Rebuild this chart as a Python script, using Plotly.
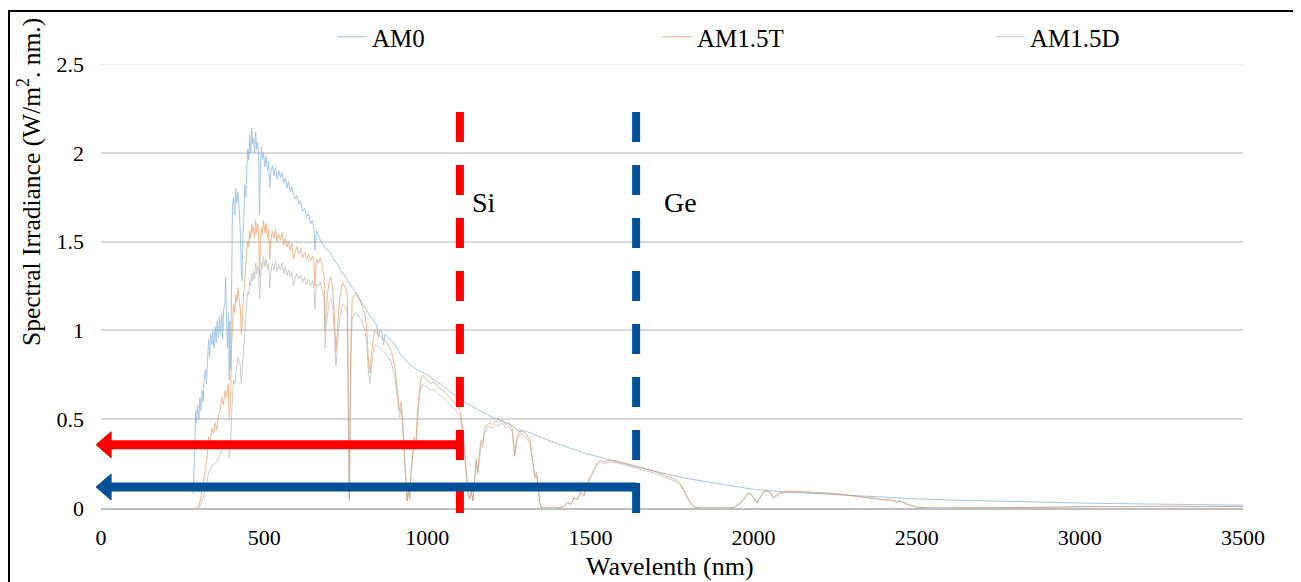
import plotly.graph_objects as go

# ---------------- data ----------------
am0_wl = [282, 286, 290, 293, 296, 300, 303, 306, 310, 313, 316, 320, 323, 326, 330, 333, 336, 340, 343, 346,
          350, 353, 356, 360, 363, 366, 370, 373, 376, 380, 382, 385, 388, 391, 393, 395, 397, 400, 403, 406,
          410, 413, 416, 420, 423, 426, 430, 432, 435, 438, 441, 444, 447, 450, 453, 456, 459, 462, 465, 468,
          471, 474, 477, 480, 483, 486, 489, 492, 495, 498, 502, 506, 510, 514, 517, 520, 525, 530, 535, 540,
          545, 550, 555, 560, 565, 570, 575, 580, 585, 590, 595, 600, 606, 612, 618, 624, 630, 636, 642, 648,
          653, 656, 660, 666, 672, 678, 684, 690, 696, 702, 710, 718, 726, 734, 742, 750, 758, 766, 775, 785,
          795, 805, 815, 825, 835, 845, 850, 854, 860, 866, 870, 880, 890, 900, 910, 920, 930, 945, 960, 975,
          990, 1000, 1020, 1040, 1060, 1080, 1100, 1120, 1140, 1160, 1180, 1200, 1220, 1240, 1260, 1283, 1300,
          1320, 1340, 1360, 1380, 1400, 1420, 1440, 1460, 1480, 1500, 1520, 1540, 1560, 1580, 1600, 1620, 1640,
          1660, 1680, 1700, 1750, 1800, 1850, 1900, 1950, 2000, 2100, 2200, 2300, 2400, 2500, 2600, 2700, 2800,
          2900, 3000, 3100, 3200, 3300, 3400, 3500]
am0_val = [0.08, 0.25, 0.55, 0.48, 0.58, 0.50, 0.62, 0.55, 0.66, 0.60, 0.72, 0.78, 0.70, 0.82, 0.95, 0.85, 0.98, 0.92, 1.00, 0.90,
           1.02, 0.93, 1.05, 0.96, 1.08, 0.98, 1.10, 0.95, 1.12, 1.15, 1.30, 1.05, 0.90, 1.10, 0.72, 1.05, 0.78, 1.20, 1.70, 1.75,
           1.65, 1.80, 1.72, 1.78, 1.68, 1.60, 1.35, 1.28, 1.55, 1.62, 1.82, 1.75, 1.92, 2.02, 1.96, 2.10, 2.00, 2.14, 2.05, 2.08,
           2.00, 2.12, 2.02, 2.06, 1.98, 1.65, 1.95, 2.03, 1.96, 2.00, 1.92, 1.98, 1.90, 1.95, 1.80, 1.88, 1.93, 1.87, 1.92, 1.85,
           1.90, 1.86, 1.89, 1.83, 1.86, 1.80, 1.84, 1.78, 1.81, 1.76, 1.74, 1.76, 1.71, 1.73, 1.67, 1.69, 1.64, 1.66, 1.60, 1.62,
           1.57, 1.45, 1.56, 1.53, 1.51, 1.49, 1.47, 1.46, 1.45, 1.44, 1.41, 1.39, 1.37, 1.34, 1.32, 1.30, 1.28, 1.25, 1.23, 1.20,
           1.17, 1.14, 1.11, 1.08, 1.06, 1.03, 0.96, 1.00, 1.00, 0.92, 0.98, 0.96, 0.94, 0.92, 0.89, 0.86, 0.84, 0.81, 0.79, 0.77,
           0.76, 0.75, 0.72, 0.70, 0.67, 0.64, 0.61, 0.59, 0.57, 0.55, 0.53, 0.51, 0.495, 0.48, 0.465, 0.43, 0.435,
           0.42, 0.405, 0.39, 0.375, 0.36, 0.35, 0.335, 0.325, 0.31, 0.30, 0.29, 0.28, 0.27, 0.26, 0.25, 0.24, 0.232,
           0.225, 0.215, 0.205, 0.185, 0.165, 0.15, 0.135, 0.12, 0.105, 0.09, 0.08, 0.07, 0.06, 0.052, 0.045, 0.04, 0.035,
           0.031, 0.028, 0.025, 0.022, 0.02, 0.018, 0.016]

am15t_wl = [290, 300, 305, 310, 315, 320, 325, 330, 335, 340, 345, 350, 355, 360, 365, 370, 375, 380, 385, 390,
            393, 397, 400, 403, 406, 410, 413, 416, 420, 423, 427, 430, 433, 437, 440, 444, 447, 450, 453, 456,
            459, 462, 465, 468, 471, 474, 477, 480, 483, 486, 489, 492, 495, 498, 502, 506, 510, 514, 517, 520,
            525, 530, 535, 540, 545, 550, 555, 560, 565, 570, 575, 580, 585, 590, 595, 600, 606, 612, 618, 624,
            630, 636, 642, 648, 653, 656, 660, 666, 672, 678, 684, 687, 690, 695, 700, 705, 710, 715, 720, 725,
            730, 735, 740, 745, 750, 755, 759, 761, 763, 766, 770, 775, 780, 790, 800, 810, 815, 820, 824, 828,
            834, 840, 850, 860, 870, 880, 890, 900, 905, 910, 915, 920, 925, 930, 935, 938, 942, 946, 950, 955,
            960, 965, 970, 975, 980, 985, 990, 1000, 1010, 1020, 1030, 1040, 1050, 1060, 1070, 1080, 1090, 1100,
            1105, 1110, 1115, 1120, 1125, 1130, 1135, 1140, 1145, 1150, 1155, 1160, 1165, 1170, 1175, 1180, 1190,
            1200, 1210, 1220, 1230, 1240, 1250, 1260, 1268, 1275, 1285, 1295, 1305, 1315, 1320, 1325, 1330, 1335,
            1340, 1345, 1350, 1360, 1380, 1400, 1420, 1430, 1440, 1450, 1460, 1470, 1480, 1490, 1500, 1510, 1520,
            1530, 1540, 1560, 1580, 1600, 1620, 1640, 1660, 1680, 1700, 1720, 1740, 1760, 1775, 1790, 1800, 1810,
            1820, 1840, 1900, 1940, 1955, 1970, 1980, 1990, 2000, 2010, 2020, 2030, 2040, 2050, 2060, 2070, 2080,
            2100, 2120, 2150, 2200, 2250, 2300, 2330, 2350, 2380, 2400, 2420, 2440, 2450, 2470, 2500, 2550, 2600,
            2800, 2850, 2900, 2950, 3000, 3050, 3100, 3150, 3200, 3250, 3300, 3350, 3400, 3450, 3500]
am15t_val = [0.0, 0.01, 0.05, 0.10, 0.16, 0.22, 0.28, 0.40, 0.38, 0.45, 0.42, 0.48, 0.44, 0.52, 0.55, 0.62, 0.58, 0.66, 0.62, 0.70,
             0.50, 0.60, 0.90, 1.05, 1.15, 1.10, 1.20, 1.16, 1.24, 1.18, 1.12, 0.98, 1.05, 1.20, 1.30, 1.38, 1.45, 1.50, 1.47, 1.56,
             1.52, 1.60, 1.55, 1.58, 1.52, 1.62, 1.55, 1.60, 1.56, 1.30, 1.52, 1.58, 1.54, 1.62, 1.55, 1.60, 1.52, 1.57, 1.40, 1.50,
             1.56, 1.52, 1.57, 1.50, 1.54, 1.51, 1.55, 1.48, 1.52, 1.47, 1.50, 1.45, 1.49, 1.40, 1.44, 1.47, 1.43, 1.46, 1.41, 1.44,
             1.40, 1.43, 1.39, 1.42, 1.38, 1.25, 1.40, 1.38, 1.41, 1.36, 1.30, 1.00, 1.12, 1.22, 1.28, 1.30, 1.24, 1.10, 0.88, 1.02,
             1.15, 1.22, 1.27, 1.25, 1.24, 1.20, 0.60, 0.05, 0.40, 0.95, 1.18, 1.20, 1.21, 1.18, 1.14, 1.08, 1.00, 0.82, 0.76, 0.85,
             0.95, 1.00, 0.98, 0.96, 0.94, 0.92, 0.88, 0.80, 0.72, 0.62, 0.55, 0.60, 0.48, 0.30, 0.12, 0.04, 0.10, 0.05, 0.20, 0.32,
             0.40, 0.35, 0.55, 0.65, 0.72, 0.75, 0.74, 0.72, 0.70, 0.71, 0.69, 0.67, 0.66, 0.64, 0.62, 0.60, 0.58, 0.55,
             0.50, 0.42, 0.30, 0.18, 0.08, 0.05, 0.10, 0.04, 0.15, 0.28, 0.20, 0.32, 0.38, 0.36, 0.44, 0.46, 0.48,
             0.47, 0.49, 0.48, 0.50, 0.47, 0.48, 0.45, 0.30, 0.40, 0.44, 0.43, 0.41, 0.38, 0.30, 0.25, 0.18, 0.20,
             0.10, 0.03, 0.0, 0.0, 0.0, 0.0, 0.01, 0.03, 0.02, 0.06, 0.05, 0.09, 0.07, 0.14, 0.18, 0.22, 0.25,
             0.27, 0.26, 0.27, 0.265, 0.255, 0.245, 0.235, 0.225, 0.215, 0.205, 0.19, 0.175, 0.16, 0.14, 0.09, 0.05, 0.02,
             0.005, 0.0, 0.0, 0.003, 0.02, 0.05, 0.08, 0.085, 0.06, 0.03, 0.06, 0.09, 0.10, 0.09, 0.06, 0.07, 0.085,
             0.095, 0.095, 0.093, 0.088, 0.082, 0.072, 0.065, 0.058, 0.055, 0.048, 0.05, 0.03, 0.04, 0.02, 0.005, 0.0, 0.0,
             0.0, 0.002, 0.004, 0.006, 0.008, 0.007, 0.009, 0.008, 0.010, 0.009, 0.011, 0.009, 0.010, 0.009, 0.008]

am15d_wl = [300, 310, 320, 330, 340, 350, 360, 370, 380, 390, 393, 397, 400, 403, 406, 410, 413, 416, 420, 423,
            427, 430, 433, 437, 440, 444, 447, 450, 453, 456, 459, 462, 465, 468, 471, 474, 477, 480, 483, 486,
            489, 492, 495, 498, 502, 506, 510, 514, 517, 520, 525, 530, 535, 540, 545, 550, 555, 560, 565, 570,
            575, 580, 585, 590, 595, 600, 606, 612, 618, 624, 630, 636, 642, 648, 653, 656, 660, 666, 672, 678,
            684, 687, 690, 695, 700, 705, 710, 715, 720, 725, 730, 735, 740, 745, 750, 755, 759, 761, 763, 766,
            770, 775, 780, 790, 800, 810, 815, 820, 824, 828, 834, 840, 850, 860, 870, 880, 890, 900, 905, 910,
            915, 920, 925, 930, 935, 938, 942, 946, 950, 955, 960, 965, 970, 975, 980, 985, 990, 1000, 1010, 1020,
            1030, 1040, 1050, 1060, 1070, 1080, 1090, 1100, 1105, 1110, 1115, 1120, 1125, 1130, 1135, 1140, 1145,
            1150, 1155, 1160, 1165, 1170, 1175, 1180, 1190, 1200, 1210, 1220, 1230, 1240, 1250, 1260, 1268, 1275,
            1285, 1295, 1305, 1315, 1320, 1325, 1330, 1335, 1340, 1345, 1350, 1400, 1420, 1430, 1440, 1450, 1460,
            1470, 1480, 1490, 1500, 1510, 1520, 1530, 1540, 1560, 1580, 1600, 1620, 1640, 1660, 1680, 1700, 1720,
            1740, 1760, 1775, 1790, 1800, 1810, 1820, 1840, 1900, 1940, 1955, 1970, 1980, 1990, 2000, 2010, 2020,
            2030, 2040, 2050, 2060, 2070, 2080, 2100, 2150, 2200, 2250, 2300, 2350, 2400, 2450, 2500, 2550, 2800,
            2900, 3000, 3100, 3200, 3300, 3400, 3500]
am15d_val = [0.0, 0.04, 0.10, 0.20, 0.24, 0.25, 0.28, 0.33, 0.34, 0.38, 0.28, 0.34, 0.52, 0.62, 0.72, 0.70, 0.78, 0.80, 0.85, 0.82,
             0.80, 0.70, 0.78, 0.92, 1.02, 1.10, 1.16, 1.22, 1.20, 1.28, 1.25, 1.32, 1.28, 1.33, 1.29, 1.38, 1.32, 1.36, 1.34, 1.18,
             1.32, 1.38, 1.35, 1.42, 1.36, 1.40, 1.34, 1.38, 1.24, 1.32, 1.38, 1.34, 1.39, 1.33, 1.37, 1.34, 1.38, 1.32, 1.36, 1.31,
             1.34, 1.30, 1.33, 1.25, 1.29, 1.32, 1.29, 1.31, 1.27, 1.30, 1.26, 1.29, 1.25, 1.28, 1.24, 1.12, 1.26, 1.25, 1.27, 1.23,
             1.18, 0.90, 1.02, 1.10, 1.16, 1.18, 1.13, 1.00, 0.80, 0.92, 1.04, 1.10, 1.15, 1.14, 1.13, 1.10, 0.55, 0.04, 0.36, 0.86,
             1.07, 1.09, 1.10, 1.08, 1.05, 0.99, 0.92, 0.75, 0.70, 0.78, 0.87, 0.92, 0.91, 0.89, 0.87, 0.85, 0.82, 0.74, 0.67, 0.58,
             0.51, 0.56, 0.45, 0.28, 0.11, 0.04, 0.09, 0.05, 0.19, 0.30, 0.37, 0.33, 0.51, 0.61, 0.67, 0.70, 0.69, 0.68, 0.66, 0.67,
             0.65, 0.63, 0.62, 0.60, 0.58, 0.56, 0.54, 0.52, 0.47, 0.40, 0.28, 0.17, 0.07, 0.05, 0.09, 0.04, 0.14,
             0.26, 0.19, 0.30, 0.36, 0.34, 0.42, 0.44, 0.46, 0.45, 0.47, 0.46, 0.48, 0.45, 0.46, 0.43, 0.29, 0.38,
             0.42, 0.41, 0.39, 0.36, 0.29, 0.24, 0.17, 0.19, 0.09, 0.03, 0.0, 0.0, 0.01, 0.03, 0.02, 0.055, 0.045,
             0.085, 0.065, 0.13, 0.17, 0.21, 0.24, 0.26, 0.25, 0.26, 0.255, 0.245, 0.235, 0.225, 0.215, 0.205, 0.195, 0.18,
             0.165, 0.15, 0.13, 0.085, 0.045, 0.02, 0.004, 0.0, 0.0, 0.003, 0.02, 0.045, 0.075, 0.08, 0.055, 0.028, 0.055,
             0.085, 0.095, 0.085, 0.055, 0.065, 0.08, 0.09, 0.088, 0.083, 0.078, 0.068, 0.055, 0.045, 0.037, 0.005, 0.0, 0.0,
             0.004, 0.007, 0.008, 0.009, 0.01, 0.009, 0.008]

series_names = ["AM0", "AM1.5T", "AM1.5D"]
series_colors = ["#5B9BD5", "#ED7D31", "#A5A5A5"]

x_ticks = [0, 500, 1000, 1500, 2000, 2500, 3000, 3500]
y_ticks = [0, 0.5, 1, 1.5, 2, 2.5]
y_tick_text = ["0", "0.5", "1", "1.5", "2", "2.5"]

si_gap_nm = 1100
ge_gap_nm = 1640
si_arrow_level = 0.356
ge_arrow_level = 0.118
arrow_tip_nm = -15
label_level = 1.72
si_label_nm = 1130
ge_label_nm = 1720

X_MAX = 3500
Y_MAX = 2.5

# ---------------- figure ----------------
FONT = "Liberation Serif, Times New Roman, serif"
fig = go.Figure()

xs = [am0_wl, am15t_wl, am15d_wl]
ys = [am0_val, am15t_val, am15d_val]
legends = ["legend", "legend2", "legend3"]
for name, col, x, y, lg in zip(series_names, series_colors, xs, ys, legends):
    fig.add_trace(go.Scatter(x=x, y=y, mode="lines", name=name, showlegend=True,
                             line=dict(color=col, width=1), opacity=0.55,
                             legend=lg))

# The page body has an 8px margin: work in page pixels and convert.
OFF = 8
W, H = 1301 - OFF, 582 - OFF
PL, PR, PT, PB = 101, 1243, 64, 508          # plot area in page pixels
ML, MR, MT, MB = PL - OFF, W - (PR - OFF), PT - OFF, H - (PB - OFF)
pw, ph = PR - PL, PB - PT


def px2paper_x(px):
    return (px - PL) / pw


def py2paper_y(py):
    return (PB - py) / ph


def nm2paper(nm):
    return nm / X_MAX


# faint top gridline (plotly hides the one on the plot edge)
fig.add_shape(type="line", xref="paper", yref="y", x0=0, x1=1, y0=Y_MAX, y1=Y_MAX,
              line=dict(color="#E8E8E8", width=1.5), layer="below")

# dashed band-gap lines
for xv, col in [(si_gap_nm, "#FF0000"), (ge_gap_nm, "#00519A")]:
    fig.add_shape(type="line", xref="x", yref="paper", x0=xv, x1=xv,
                  y0=py2paper_y(112), y1=py2paper_y(518),
                  line=dict(color=col, width=8, dash="30px,23px"))

# arrows (shaft + triangular head), pointing left to just past 0
HEAD_LEN = 15 / pw                 # paper units
HEAD_HALF = 13 / ph * Y_MAX        # data units
for tail, lvl, col in [(si_gap_nm, si_arrow_level, "#FF0000"), (ge_gap_nm, ge_arrow_level, "#00519A")]:
    tip = nm2paper(arrow_tip_nm)
    fig.add_shape(type="line", xref="paper", yref="y",
                  x0=tip + HEAD_LEN * 0.9, x1=nm2paper(tail), y0=lvl, y1=lvl,
                  line=dict(color=col, width=9))
    fig.add_shape(type="path", xref="paper", yref="y",
                  path=(f"M {tip} {lvl} L {tip + HEAD_LEN} {lvl + HEAD_HALF} "
                        f"L {tip + HEAD_LEN} {lvl - HEAD_HALF} Z"),
                  fillcolor=col, line=dict(color=col, width=1))

# labels
for xv, txt in [(si_label_nm, "Si"), (ge_label_nm, "Ge")]:
    fig.add_annotation(x=xv, y=label_level, xref="x", yref="y", text=txt, showarrow=False,
                       xanchor="left", yanchor="middle",
                       font=dict(family=FONT, size=28, color="black"))

# axis titles
fig.add_annotation(text="Spectral Irradiance (W/m<sup>2</sup>. nm.)", textangle=-90,
                   xref="paper", yref="paper", x=px2paper_x(30), y=py2paper_y(182),
                   xanchor="center", yanchor="middle",
                   showarrow=False, font=dict(family=FONT, size=25.5, color="black"))
fig.add_annotation(text="Wavelenth (nm)", xref="paper", yref="paper",
                   x=px2paper_x(670), y=py2paper_y(566), xanchor="center", yanchor="middle",
                   showarrow=False, font=dict(family=FONT, size=26, color="black"))

# outer frame
fig.add_shape(type="line", xref="paper", yref="paper", x0=px2paper_x(9), x1=px2paper_x(9),
              y0=py2paper_y(11), y1=py2paper_y(600), line=dict(color="black", width=2))
fig.add_shape(type="line", xref="paper", yref="paper", x0=px2paper_x(8), x1=px2paper_x(1299),
              y0=py2paper_y(11), y1=py2paper_y(11), line=dict(color="black", width=2))
fig.add_shape(type="line", xref="paper", yref="paper", x0=px2paper_x(1298), x1=px2paper_x(1298),
              y0=py2paper_y(11), y1=py2paper_y(600), line=dict(color="#9a9a9a", width=1.5))

leg_common = dict(orientation="h", yanchor="middle", xanchor="left",
                  y=py2paper_y(37),
                  font=dict(family=FONT, size=25, color="black"), bgcolor="rgba(0,0,0,0)")
fig.update_layout(
    width=W, height=H, autosize=False, showlegend=True,
    margin=dict(l=ML, r=MR, t=MT, b=MB, pad=0, autoexpand=False),
    paper_bgcolor="white", plot_bgcolor="white",
    font=dict(family=FONT, size=22, color="black"),
    legend=dict(x=px2paper_x(332), **leg_common),
    legend2=dict(x=px2paper_x(657), **leg_common),
    legend3=dict(x=px2paper_x(990), **leg_common),
    xaxis=dict(range=[0, X_MAX], tickvals=x_ticks, showgrid=False, zeroline=False,
               showline=True, linecolor="#BFBFBF", linewidth=2, ticks="",
               tickfont=dict(family=FONT, size=22, color="black"), ticklabelstandoff=9),
    yaxis=dict(range=[0, Y_MAX], tickvals=y_ticks, ticktext=y_tick_text, showgrid=True,
               gridcolor="#D9D9D9", gridwidth=1.5, zeroline=False, showline=False, ticks="",
               tickfont=dict(family=FONT, size=22, color="black"), ticklabelstandoff=16),
)

fig.write_html("out.html")
